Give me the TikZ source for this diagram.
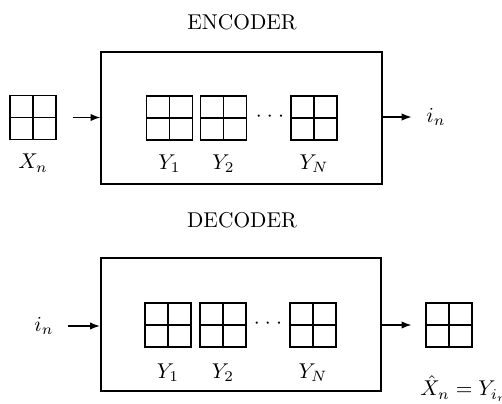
\documentclass[tikz,border=0pt]{standalone}
\usetikzlibrary{arrows.meta,positioning}

\begin{document}
\begin{tikzpicture}[
  x=0.467pt, y=-0.467pt,
  frame/.style={draw, line width=0.9pt, minimum width=131pt, minimum height=62pt},
  quad/.style={draw, line width=0.7pt, inner sep=0pt,
               minimum width=21.5pt, minimum height=20.5pt,
               path picture={\draw[line width=0.7pt]
                 (path picture bounding box.north) -- (path picture bounding box.south)
                 (path picture bounding box.west) -- (path picture bounding box.east);}},
  ttl/.style={font=\normalsize},
  arr/.style={-{Latex[length=1.6mm,width=1.2mm]}, line width=0.5pt}
]
\useasboundingbox (0,0) rectangle (502,404);

% encoder
\node[ttl] (enctitle) at (242,22) {ENCODER};
\node[frame] (enc) at (241.5,118) {};
\node[quad] (xn) at (33,117.5) {};
\node[below=3pt of xn] (xnlbl) {$X_n$};
\node[quad] (ey1) at (169.5,118) {};
\node[quad] (ey2) at (223.5,118) {};
\node[quad] (eyN) at (314,118) {};
\node (edots) at (270,117) {$\mathord{\cdot}\hspace{2.4pt}\mathord{\cdot}\hspace{2.4pt}\mathord{\cdot}$};
\node[below=3pt of ey1] (ey1lbl) {$Y_1$};
\node[below=3pt of ey2] (ey2lbl) {$Y_2$};
\node[below=3pt of eyN] (eyNlbl) {$Y_N$};
\node (ein) at (436,117) {$i_n$};

\draw[arr, shorten <=7.5pt] (xn.east) -- (xn.east -| enc.west);
\draw[arr, shorten >=3.5pt] (ein.west -| enc.east) -- (ein.west);

% decoder
\node[ttl] (dectitle) at (242,220) {DECODER};
\node[frame] (dec) at (241,324.5) {};
\node (din) at (44,326) {$i_n$};
\node[quad] (dy1) at (168,325) {};
\node[quad] (dy2) at (223,325) {};
\node[quad] (dyN) at (313,325) {};
\node (ddots) at (268,324) {$\mathord{\cdot}\hspace{2.4pt}\mathord{\cdot}\hspace{2.4pt}\mathord{\cdot}$};
\node[below=4pt of dy1] (dy1lbl) {$Y_1$};
\node[below=4pt of dy2] (dy2lbl) {$Y_2$};
\node[below=4pt of dyN] (dyNlbl) {$Y_N$};
\node[quad] (xhat) at (449,325) {};
\node[anchor=base west, inner sep=0pt] (xhatlbl) at (420,396) {$\hat{X}_n = Y_{i_n}$};

\draw[arr, shorten <=3pt] (din.east) -- (din.east -| dec.west);
\draw[arr, shorten >=6.5pt] (xhat.west -| dec.east) -- (xhat.west);
\end{tikzpicture}
\end{document}
